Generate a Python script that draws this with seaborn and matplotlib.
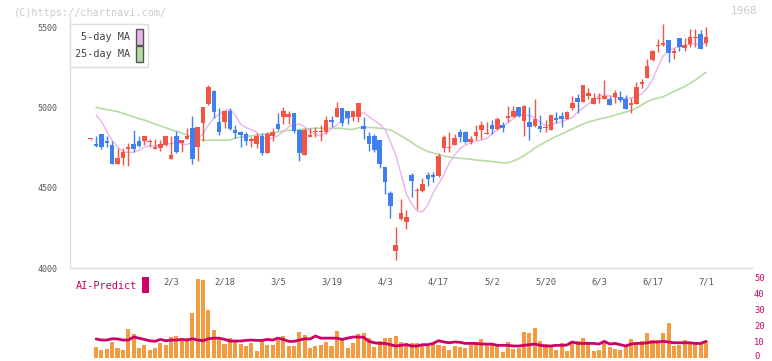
import numpy as np
import pandas as pd
import matplotlib
matplotlib.use("Agg")
import matplotlib.pyplot as plt
import matplotlib.transforms as mtrans
from matplotlib.patches import Patch, Rectangle
import seaborn as sns

# ---------------- data ----------------
opens = [4800, 4772, 4834, 4790, 4766, 4649, 4687, 4742, 4772, 4792,
         4792, 4782, 4742, 4749, 4768, 4680, 4822, 4778, 4803, 4871,
         4753, 4904, 5023, 5102, 4909, 4911, 4977, 4859, 4847, 4834,
         4792, 4772, 4822, 4718, 4822, 4896, 4942, 4942, 4965, 4859,
         4703, 4817, 4845, 4845, 4848, 4923, 4940, 4994, 4977, 4940,
         4940, 4884, 4822, 4822, 4797, 4629, 4469, 4106, 4305, 4286,
         4579, 4478, 4481, 4579, 4579, 4573, 4745, 4749, 4768, 4847,
         4847, 4786, 4822, 4859, 4836, 4890, 4865, 4890, 4934, 4942,
         5000, 4917, 4909, 4886, 4884, 4871, 4861, 4936, 4946, 4929,
         4998, 5058, 5035, 5073, 5023, 5054, 5054, 5052, 5064, 5062,
         5052, 5015, 5023, 5145, 5185, 5295, 5380, 5388, 5419, 5336,
         5430, 5367, 5394, 5434, 5456, 5403]
highs = [4802, 4822, 4836, 4822, 4790, 4747, 4747, 4780, 4859, 4822,
         4822, 4803, 4803, 4797, 4822, 4822, 4853, 4797, 4869, 4946,
         4880, 5002, 5139, 5110, 4994, 4980, 4994, 4890, 4850, 4848,
         4815, 4842, 4842, 4848, 4873, 4967, 5002, 4977, 4965, 4859,
         4873, 4873, 4878, 4890, 4948, 4948, 5031, 4994, 4977, 4977,
         5027, 4940, 4848, 4832, 4797, 4629, 4479, 4255, 4431, 4361,
         4589, 4496, 4558, 4596, 4596, 4714, 4826, 4844, 4834, 4865,
         4855, 4820, 4890, 4915, 4911, 4921, 4938, 4907, 5008, 5008,
         5004, 5017, 5002, 5052, 4952, 4921, 4952, 4969, 4969, 4975,
         5073, 5081, 5140, 5118, 5087, 5087, 5170, 5068, 5108, 5102,
         5077, 5056, 5160, 5176, 5299, 5355, 5423, 5519, 5419, 5372,
         5430, 5430, 5488, 5488, 5481, 5498]
lows = [4798, 4753, 4742, 4753, 4650, 4649, 4641, 4637, 4720, 4753,
        4766, 4751, 4742, 4728, 4760, 4680, 4716, 4720, 4803, 4647,
        4666, 4792, 5015, 4932, 4828, 4870, 4857, 4807, 4755, 4766,
        4751, 4749, 4703, 4718, 4792, 4861, 4898, 4896, 4840, 4668,
        4703, 4817, 4817, 4792, 4834, 4880, 4940, 4886, 4898, 4915,
        4911, 4805, 4730, 4724, 4620, 4460, 4311, 4050, 4300, 4245,
        4444, 4367, 4475, 4512, 4537, 4564, 4724, 4720, 4768, 4786,
        4776, 4770, 4797, 4801, 4832, 4834, 4857, 4844, 4911, 4942,
        4940, 4822, 4799, 4880, 4848, 4844, 4861, 4900, 4876, 4925,
        4983, 4963, 5035, 5050, 5023, 5025, 5050, 5017, 5025, 5035,
        4990, 4967, 5023, 5118, 5185, 5290, 5346, 5380, 5284, 5299,
        5353, 5353, 5378, 5378, 5363, 5382]
closes = [4801, 4759, 4755, 4778, 4650, 4685, 4722, 4755, 4741, 4761,
          4822, 4786, 4755, 4772, 4822, 4703, 4722, 4797, 4822, 4678,
          4880, 5002, 5127, 4973, 4848, 4977, 4867, 4842, 4828, 4792,
          4803, 4822, 4714, 4832, 4847, 4865, 4977, 4960, 4853, 4718,
          4859, 4828, 4850, 4853, 4921, 4911, 4994, 4902, 4936, 4977,
          5027, 4867, 4774, 4734, 4647, 4535, 4386, 4143, 4344, 4319,
          4543, 4484, 4521, 4552, 4564, 4699, 4815, 4753, 4809, 4817,
          4786, 4801, 4847, 4890, 4840, 4865, 4927, 4873, 4946, 4977,
          4948, 5006, 4880, 4927, 4867, 4875, 4952, 4923, 4929, 4971,
          5027, 5035, 5137, 5091, 5056, 5058, 5073, 5017, 5089, 5046,
          4990, 5025, 5129, 5160, 5257, 5351, 5384, 5403, 5336, 5351,
          5378, 5388, 5436, 5438, 5363, 5440]

# 5-day and 25-day moving averages, from day index 1
ma5 = [4952, 4912, 4850, 4794, 4756, 4724, 4720, 4720, 4733, 4753,
       4761, 4761, 4761, 4770, 4776, 4780, 4772, 4768, 4787, 4806,
       4837, 4891, 4932, 4958, 4977, 4988, 4952, 4896, 4874, 4862,
       4846, 4812, 4800, 4809, 4824, 4850, 4878, 4893, 4896, 4878,
       4853, 4830, 4824, 4840, 4865, 4890, 4921, 4936, 4946, 4955,
       4968, 4942, 4918, 4896, 4862, 4787, 4703, 4585, 4461, 4398,
       4355, 4349, 4392, 4467, 4523, 4579, 4654, 4703, 4744, 4766,
       4778, 4790, 4797, 4806, 4834, 4862, 4881, 4906, 4930, 4949,
       4952, 4949, 4934, 4906, 4887, 4890, 4902, 4912, 4924, 4937,
       4971, 4996, 5021, 5046, 5074, 5077, 5072, 5064, 5056, 5056,
       5058, 5071, 5083, 5120, 5173, 5251, 5320, 5351, 5368, 5378,
       5385, 5391, 5394, 5394, 5400]
ma25 = [5000, 4993, 4986, 4980, 4974, 4963, 4952, 4940, 4930, 4921,
        4909, 4896, 4884, 4873, 4862, 4851, 4840, 4828, 4815, 4803,
        4795, 4795, 4795, 4795, 4795, 4797, 4809, 4815, 4820, 4822,
        4828, 4831, 4838, 4840, 4847, 4853, 4857, 4859, 4862, 4865,
        4868, 4870, 4870, 4870, 4870, 4870, 4869, 4863, 4863, 4873,
        4875, 4875, 4873, 4870, 4865, 4859, 4843, 4822, 4803, 4781,
        4759, 4741, 4725, 4716, 4706, 4698, 4691, 4686, 4683, 4680,
        4677, 4672, 4669, 4666, 4663, 4658, 4655, 4655, 4666, 4681,
        4700, 4722, 4747, 4766, 4784, 4803, 4819, 4834, 4850, 4865,
        4881, 4896, 4909, 4918, 4927, 4934, 4942, 4952, 4962, 4971,
        4980, 4996, 5015, 5036, 5049, 5058, 5066, 5083, 5099, 5114,
        5130, 5149, 5170, 5195, 5218]

# bottom panel (from day index 1)
volume = [6.9, 5.2, 5.8, 10.2, 6.4, 5.2, 18.3, 15.2, 6.4, 8.3,
          5.2, 6.4, 9.6, 8.3, 13.3, 13.9, 12.7, 12.7, 28.5, 49.6,
          48.9, 30.2, 17.7, 12.7, 8.9, 12.7, 10.8, 8.9, 7.7, 9.6,
          4.6, 10.8, 8.3, 8.3, 11.4, 13.9, 7.7, 7.7, 16.4, 14.6,
          6.4, 7.7, 8.3, 10.2, 7.7, 17.1, 12.7, 6.4, 9.6, 15.2,
          15.8, 12.7, 7.1, 10.8, 12.7, 12.7, 13.9, 10.2, 9.6, 9.6,
          9.6, 7.7, 7.7, 8.9, 8.3, 7.7, 5.2, 7.7, 7.1, 6.4,
          8.3, 9.6, 12.1, 8.9, 8.3, 8.3, 3.9, 10.2, 5.8, 6.4,
          16.4, 15.8, 18.9, 10.8, 8.9, 7.7, 5.2, 9.6, 4.6, 10.8,
          10.8, 12.7, 8.9, 4.6, 5.2, 9.6, 7.1, 5.8, 5.2, 8.3,
          12.1, 8.9, 10.8, 15.8, 11.4, 11.4, 15.8, 22.0, 7.7, 8.3,
          11.4, 9.6, 8.9, 8.9, 10.8]
ai_predict = [12.1, 11.4, 11.4, 12.2, 12.1, 11.4, 11.4, 13.3, 12.6, 11.8,
              11.0, 10.6, 11.8, 11.0, 11.4, 11.4, 11.8, 11.4, 12.2, 11.4,
              11.0, 12.2, 12.6, 12.6, 11.8, 10.8, 10.8, 10.8, 11.2, 11.4,
              11.2, 11.2, 11.8, 11.4, 12.6, 11.8, 10.6, 10.6, 11.4, 12.2,
              12.1, 13.9, 12.6, 12.6, 12.6, 12.6, 11.8, 12.6, 13.3, 13.3,
              13.1, 10.6, 9.7, 9.3, 9.3, 8.5, 7.7, 8.1, 8.5, 7.7,
              7.7, 8.5, 8.5, 9.3, 11.0, 10.2, 9.7, 10.2, 10.0, 9.3,
              9.3, 9.3, 8.9, 8.9, 8.9, 8.1, 8.1, 8.1, 7.7, 7.7,
              8.1, 8.5, 8.9, 8.1, 7.7, 7.7, 8.1, 8.1, 8.3, 10.2,
              9.3, 9.3, 9.3, 9.3, 8.9, 10.6, 8.9, 9.3, 8.5, 7.7,
              8.9, 9.3, 9.3, 9.7, 10.2, 10.2, 10.6, 10.2, 9.7, 9.7,
              9.7, 9.7, 9.3, 9.3, 10.6]

date_labels = ["2/3", "2/18", "3/5", "3/19", "4/3", "4/17",
               "5/2", "5/20", "6/3", "6/17", "7/1"]
date_label_days = [15, 25, 35, 45, 55, 65, 75, 85, 95, 105, 115]
price_ticks = [4000, 4500, 5000, 5500]
vol_ticks = [0, 10, 20, 30, 40, 50]

# ---------------- styles ----------------
UP = "#f25543"
DOWN = "#3f7ff0"
MA5_C = "#e8b4ec"
MA25_C = "#b6dca6"
VOL_C = "#f29b40"
AI_C = "#cc0066"
GRID = "#dddddd"
MONO = "DejaVu Sans Mono"

sns.set_theme(style="white")
plt.rcParams["font.family"] = [MONO, "DejaVu Sans"]

W, H = 772, 361
fig = plt.figure(figsize=(W / 100, H / 100), dpi=100)

x_left_px, x_right_px = 70, 752
day0_px, day_step_px = 90.75, 5.35
xlim = ((x_left_px - day0_px) / day_step_px, (x_right_px - day0_px) / day_step_px)

ax = fig.add_axes([x_left_px / W, (H - 268) / H, (x_right_px - x_left_px) / W, 250.6 / H])
axv = fig.add_axes([x_left_px / W, (H - 358.3) / H, (x_right_px - x_left_px) / W, 80 / H])

n = len(closes)
df = pd.DataFrame({"day": np.arange(n), "open": opens, "high": highs,
                   "low": lows, "close": closes})
df["up"] = df["close"] >= df["open"]
df["color"] = np.where(df["up"], UP, DOWN)
df["body_low"] = df[["open", "close"]].min(axis=1)
df["body_h"] = (df["close"] - df["open"]).abs().clip(lower=7)

sub = pd.DataFrame({"day": np.arange(1, n), "ma5": ma5, "ma25": ma25,
                    "volume": volume, "ai": ai_predict})

# moving averages
sns.lineplot(data=sub, x="day", y="ma25", ax=ax, color=MA25_C, lw=1.2, zorder=1)
sns.lineplot(data=sub, x="day", y="ma5", ax=ax, color=MA5_C, lw=1.0, zorder=1)

# candles
ax.vlines(df["day"], df["low"], df["high"], colors=df["color"], lw=1.0, zorder=2)
ax.bar(df["day"], df["body_h"], bottom=df["body_low"], width=0.85,
       color=df["color"], linewidth=0, zorder=3)

ax.set_xlim(*xlim)
ax.set_ylim(4000, 5560)
ax.set_xlabel("")
ax.set_ylabel("")
for s in ["top", "right"]:
    ax.spines[s].set_visible(False)
for s in ["left", "bottom"]:
    ax.spines[s].set_color(GRID)
    ax.spines[s].set_linewidth(1.0)
ax.set_yticks(price_ticks)
ax.set_yticklabels([str(t) for t in price_ticks])
ax.tick_params(axis="y", colors=GRID, labelcolor="#555555", length=5, width=1,
               labelsize=6, pad=4)
grid_ticks = [(132 + 62 * k - day0_px) / day_step_px for k in range(11)]
ax.set_xticks(grid_ticks)
ax.set_xticklabels([])
ax.tick_params(axis="x", colors=GRID, direction="inout", length=9, width=1)

trans = mtrans.blended_transform_factory(ax.transData, ax.transAxes)
for d, lab in zip(date_label_days, date_labels):
    ax.text(d, -14 / 250.6, lab, transform=trans, ha="center", va="center",
            fontsize=6.3, color="#555555", family=MONO)

# legend
handles = [Patch(facecolor=MA5_C, edgecolor="#555555", lw=1.0),
           Patch(facecolor=MA25_C, edgecolor="#555555", lw=1.0)]
leg = ax.legend(handles, ["5-day MA", "25-day MA"], loc="upper left",
                bbox_to_anchor=(x_left_px / W, 1 - 24 / H), bbox_transform=fig.transFigure,
                markerfirst=False, frameon=True, fancybox=False, framealpha=1,
                edgecolor=GRID, borderpad=0.5, handlelength=0.62, handleheight=1.95,
                handletextpad=0.6, labelspacing=0.13, borderaxespad=0,
                prop={"family": MONO, "size": 7.4})
leg.get_frame().set_linewidth(1.0)
for t in leg.get_texts():
    t.set_color("#444444")

# bottom panel
axv.bar(sub["day"], sub["volume"], width=0.75, color=VOL_C, linewidth=0, zorder=1)
sns.lineplot(data=sub, x="day", y="ai", ax=axv, color=AI_C, lw=2.0, zorder=2)
axv.set_xlim(*xlim)
axv.set_ylim(0, 50)
axv.set_xlabel("")
axv.set_ylabel("")
for s in axv.spines.values():
    s.set_visible(False)
axv.set_xticks([])
axv.set_yticks([])
axv.patch.set_alpha(0)

# right-hand scale labels of the bottom panel
vtrans = mtrans.blended_transform_factory(axv.transAxes, axv.transData)
for t in vol_ticks:
    tr = vtrans
    if t == 0:
        tr = mtrans.offset_copy(vtrans, fig=fig, x=0, y=2.2, units="dots")
    axv.text(1.0 + 2 / 682, t, str(t), transform=tr, ha="left", va="center",
             fontsize=6.3, color=AI_C, family=MONO)

fig.text(76 / W, 1 - 286 / H, "AI-Predict", ha="left", va="center", fontsize=7.4,
         color=AI_C, family=MONO)
fig.patches.append(Rectangle((142 / W, 1 - 293 / H), 7 / W, 16 / H,
                             transform=fig.transFigure, facecolor=AI_C, edgecolor="none"))

fig.text(14 / W, 1 - 12.5 / H, "(C)https://chartnavi.com/", ha="left", va="center",
         fontsize=7.3, color="#cccccc", family=MONO)
fig.text(757 / W, 1 - 11.5 / H, "1968", ha="right", va="center",
         fontsize=7.5, color="#c8c8c8", family="DejaVu Sans")

fig.savefig("out.png", dpi=100)
